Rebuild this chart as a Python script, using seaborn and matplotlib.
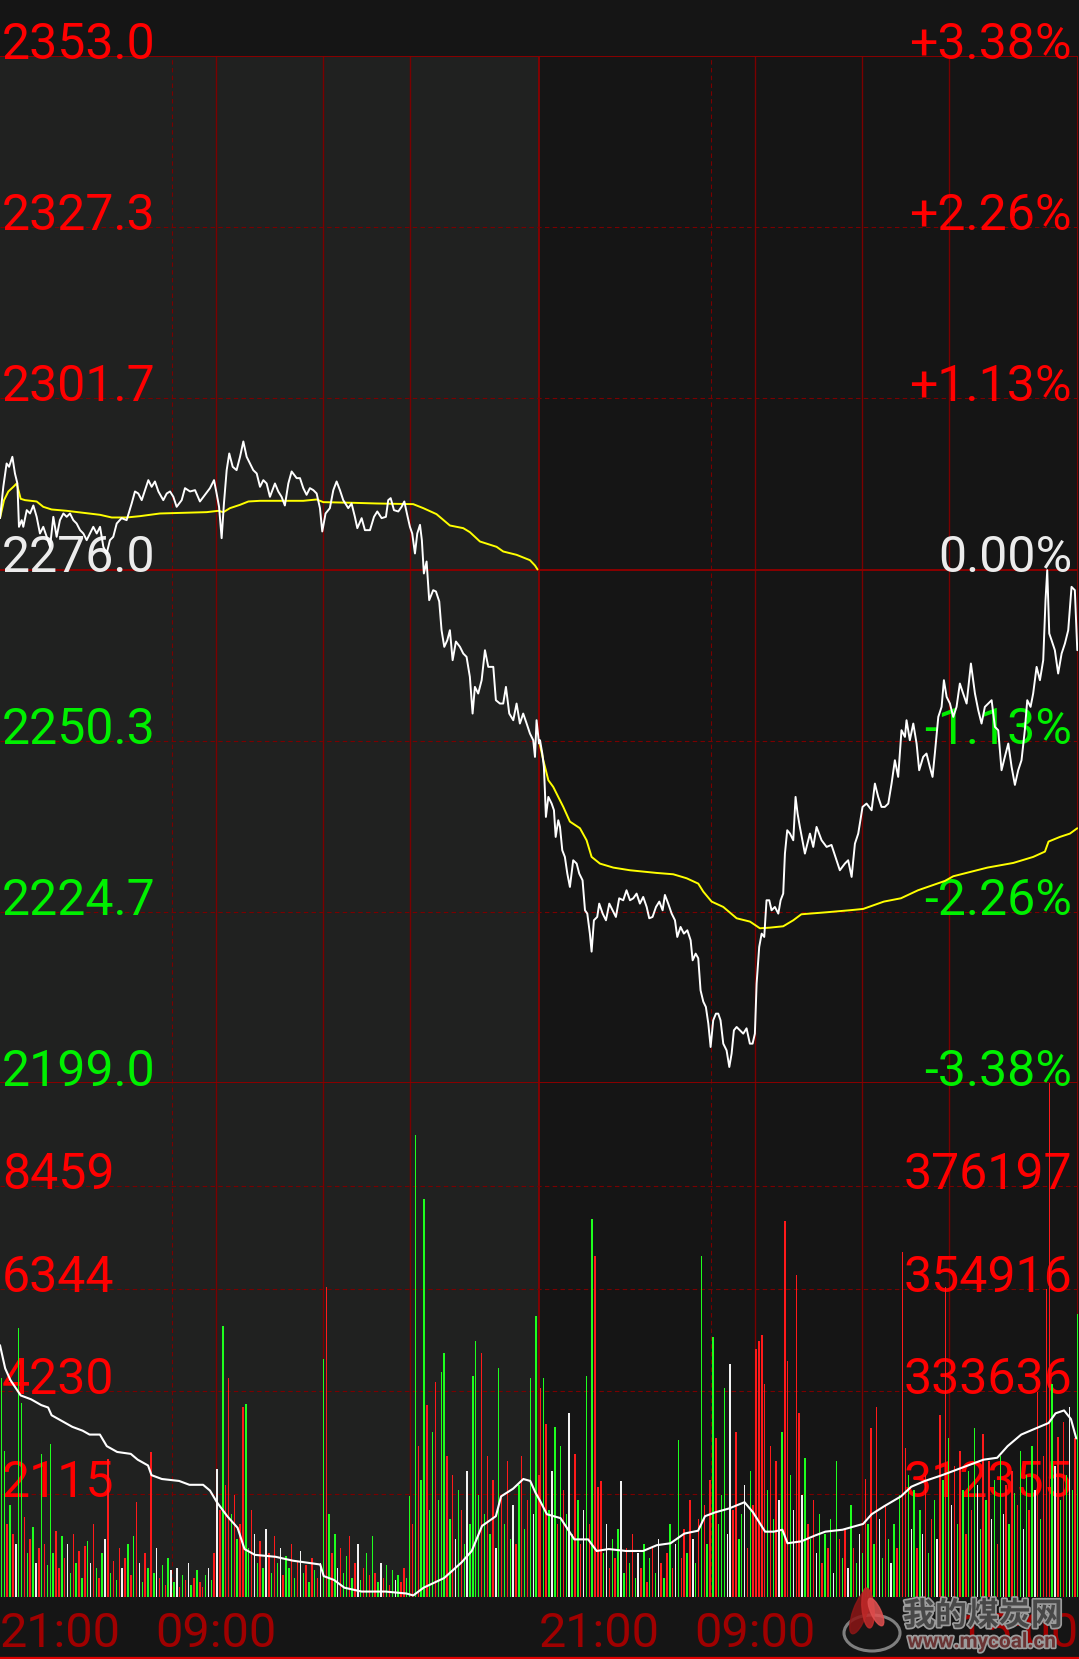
import numpy as np
import pandas as pd
import matplotlib
matplotlib.use("Agg")
import matplotlib.pyplot as plt
import matplotlib.transforms as mtransforms
import matplotlib.patheffects as pe
from matplotlib.patches import Ellipse
from matplotlib.lines import Line2D
import seaborn as sns

# ---------------- data ----------------
# axis labels
price_levels = [2353.0, 2327.3, 2301.7, 2276.0, 2250.3, 2224.7, 2199.0]
pct_labels = ["+3.38%", "+2.26%", "+1.13%", "0.00%", "-1.13%", "-2.26%", "-3.38%"]
vol_levels = [8459, 6344, 4230, 2115]
oi_labels = ["376197", "354916", "333636", "312355"]
vol_max = 10574
oi_min, oi_max = 291074, 397478

# session minutes (two trading days of 375 min each)
time_labels = ["21:00", "09:00", "21:00", "09:00", "15:00"]
time_minutes = [0, 150, 375, 525, 750]
dashed_minutes = [120, 495]
solid_minutes = [150, 225, 285, 525, 600, 660]
day_break = 375

# last price, day 1 (minute, price)
day1_t = [0, 2.3, 4.6, 6.3, 8.6, 10.4, 12.1, 13.2, 15.1, 16.2, 18.6, 20.9, 23.2, 25.5, 27.8,
          30.1, 32.5, 34.8, 37.1, 39.4, 41.7, 44.1, 46.4, 48.7, 51.0, 53.3, 55.7, 58.0, 60.3,
          62.6, 64.9, 67.3, 69.6, 71.9, 74.2, 76.5, 78.8, 81.2, 84.6, 88.1, 91.6, 93.9, 96.2,
          98.6, 100.9, 103.2, 105.5, 107.8, 110.2, 113.6, 116.0, 118.3, 120.6, 122.9, 126.4,
          128.7, 132.2, 135.7, 139.1, 142.6, 146.1, 148.9, 150.7, 152.4, 154.2, 155.8, 157.7,
          159.5, 161.9, 164.6, 167.0, 169.3, 171.6, 173.9, 176.2, 178.6, 180.9, 183.2, 185.5,
          187.8, 191.3, 193.6, 195.9, 198.2, 200.6, 202.9, 206.4, 208.7, 211.0, 213.3, 215.6,
          218.0, 220.3, 222.6, 224.2, 226.5, 229.5, 231.9, 234.2, 236.5, 238.8, 242.3, 244.6,
          246.9, 248.6, 251.6, 253.9, 257.4, 260.2, 262.5, 265.5, 268.5, 270.1, 271.8, 274.1,
          277.1, 279.4, 281.3, 283.3, 285.2, 286.8, 288.7, 290.3, 292.2, 293.5, 294.9, 296.8,
          298.6, 301.4, 303.3, 305.6, 307.2, 309.1, 311.2, 313.0, 314.9, 317.2, 320.0, 322.3,
          324.6, 326.9, 328.8, 330.4, 332.7, 335.1, 337.4, 339.7, 343.2, 345.0, 347.8, 350.1,
          352.0, 354.3, 357.1, 359.4, 361.7, 364.0, 366.4, 368.7, 371.0, 372.2, 373.3, 375.0]
day1_p = [2283.7, 2288.4, 2291.9, 2291.4, 2292.9, 2290.4, 2288.9, 2282.4, 2283.4, 2282.4,
          2284.9, 2284.4, 2285.6, 2283.9, 2281.4, 2282.4, 2280.9, 2279.4, 2283.9, 2280.9,
          2283.4, 2284.4, 2283.9, 2284.4, 2283.4, 2282.9, 2281.9, 2281.4, 2280.4, 2281.4,
          2282.4, 2281.4, 2282.4, 2279.4, 2278.4, 2280.4, 2280.9, 2282.9, 2283.7, 2283.4,
          2285.9, 2287.7, 2287.4, 2286.4, 2287.9, 2289.4, 2288.4, 2289.2, 2287.7, 2286.4,
          2287.4, 2287.7, 2286.9, 2285.4, 2286.4, 2288.2, 2287.7, 2287.9, 2286.2, 2287.2,
          2288.2, 2289.4, 2287.4, 2285.4, 2280.7, 2285.9, 2290.9, 2293.4, 2291.4, 2290.9,
          2292.9, 2295.2, 2292.9, 2291.9, 2290.9, 2290.4, 2288.4, 2289.4, 2288.9, 2286.9,
          2288.9, 2287.7, 2286.9, 2285.6, 2288.9, 2290.7, 2289.7, 2289.7, 2288.2, 2287.2,
          2288.2, 2287.9, 2287.4, 2285.2, 2281.7, 2284.4, 2285.2, 2287.9, 2289.2, 2287.9,
          2286.4, 2285.2, 2285.9, 2283.9, 2282.2, 2283.7, 2281.9, 2281.9, 2283.9, 2284.7,
          2283.7, 2283.9, 2286.4, 2286.7, 2284.9, 2284.7, 2285.4, 2286.2, 2284.2, 2282.4,
          2281.4, 2278.4, 2281.4, 2282.7, 2280.4, 2275.4, 2277.2, 2271.4, 2272.9, 2272.7,
          2271.2, 2266.9, 2264.4, 2265.4, 2266.9, 2262.4, 2265.2, 2264.4, 2263.4, 2262.9,
          2259.9, 2254.4, 2258.4, 2257.4, 2259.4, 2263.9, 2261.4, 2261.4, 2256.4, 2255.9,
          2255.9, 2258.4, 2254.4, 2253.4, 2255.9, 2252.9, 2254.4, 2252.9, 2251.4, 2250.4,
          2247.9, 2253.4, 2249.9]

# last price, day 2
day2_t = [375.7, 377.3, 378.4, 379.1, 379.8, 381.5, 383.8, 385.4, 386.6, 388.4, 389.6, 391.2,
          393.0, 394.7, 396.5, 398.8, 401.2, 403.0, 405.3, 407.0, 408.6, 410.4, 411.6, 413.2,
          415.5, 416.9, 419.3, 421.6, 423.9, 426.2, 428.5, 430.8, 433.6, 435.9, 438.3, 440.6,
          442.9, 445.2, 447.5, 449.9, 451.7, 454.0, 456.4, 458.7, 461.0, 462.6, 464.9, 467.3,
          469.6, 471.2, 473.5, 475.8, 478.2, 480.5, 481.9, 484.0, 485.8, 487.4, 489.3, 491.1,
          492.8, 494.4, 496.2, 498.1, 499.7, 501.3, 503.2, 505.5, 507.4, 509.0, 510.6, 512.5,
          514.8, 517.1, 519.4, 521.7, 523.6, 525.2, 526.4, 528.2, 529.9, 531.7, 533.3, 535.2,
          536.8, 539.1, 541.5, 543.1, 544.9, 546.1, 547.7, 549.6, 551.9, 553.5, 554.9, 556.5,
          560.0, 563.5, 565.8, 568.1, 571.6, 575.1, 578.5, 582.0, 584.3, 587.8, 590.1, 592.5,
          594.8, 597.1, 600.1, 602.9, 606.4, 608.7, 611.0, 613.3, 615.6, 618.0, 620.3, 622.6,
          624.9, 627.2, 629.6, 630.7, 633.0, 635.4, 637.7, 639.5, 642.3, 644.6, 646.9, 648.8,
          650.4, 652.8, 655.1, 656.7, 658.6, 660.9, 663.2, 665.5, 667.8, 670.1, 672.5, 675.5,
          678.3, 680.6, 682.9, 685.2, 687.5, 689.9, 692.2, 694.5, 696.8, 699.1, 701.5, 703.8,
          706.1, 708.4, 710.7, 713.0, 714.7, 717.0, 718.8, 721.2, 723.5, 725.8, 727.4, 728.6,
          730.0, 731.6, 733.9, 736.2, 738.6, 740.9, 743.2, 745.5, 747.8, 749.5]
day2_p = [2250.4, 2248.4, 2246.4, 2242.9, 2238.9, 2241.9, 2240.9, 2239.9, 2235.9, 2238.4,
          2237.4, 2233.9, 2232.9, 2230.4, 2228.4, 2232.4, 2231.9, 2230.4, 2229.4, 2224.9,
          2224.4, 2221.4, 2218.7, 2223.4, 2223.9, 2225.9, 2224.4, 2223.4, 2225.9, 2224.9,
          2223.9, 2226.7, 2226.4, 2227.9, 2226.4, 2226.7, 2227.4, 2225.9, 2226.9, 2225.4,
          2223.7, 2223.9, 2225.4, 2226.2, 2224.9, 2227.2, 2225.9, 2224.4, 2223.4, 2220.9,
          2222.4, 2221.4, 2221.9, 2220.4, 2217.4, 2218.4, 2217.7, 2212.9, 2211.2, 2210.4,
          2207.9, 2204.4, 2208.4, 2209.4, 2209.4, 2208.4, 2204.9, 2203.9, 2201.4, 2203.4,
          2206.9, 2207.4, 2206.9, 2206.4, 2207.2, 2204.9, 2204.9, 2206.4, 2213.9, 2219.4,
          2221.4, 2220.9, 2226.4, 2226.4, 2224.9, 2225.4, 2224.4, 2226.4, 2227.4, 2233.4,
          2236.9, 2236.4, 2235.4, 2241.9, 2239.4, 2237.4, 2233.4, 2236.4, 2234.4, 2237.4,
          2235.4, 2234.4, 2234.7, 2232.4, 2230.9, 2231.9, 2232.4, 2229.9, 2234.9, 2236.4,
          2240.4, 2240.9, 2239.9, 2243.9, 2241.9, 2240.4, 2240.4, 2240.9, 2243.9, 2247.4,
          2244.9, 2251.9, 2250.9, 2253.4, 2250.4, 2252.9, 2249.9, 2245.9, 2247.9, 2248.4,
          2246.4, 2244.9, 2248.4, 2253.9, 2255.4, 2259.4, 2256.9, 2255.9, 2253.9, 2255.4,
          2258.9, 2257.4, 2255.9, 2261.9, 2257.4, 2254.9, 2252.9, 2255.4, 2255.9, 2256.4,
          2252.4, 2251.9, 2245.9, 2247.9, 2249.9, 2246.4, 2243.7, 2245.9, 2247.4, 2251.9,
          2256.4, 2255.4, 2257.4, 2261.4, 2259.4, 2262.4, 2271.4, 2275.9, 2266.4, 2265.4,
          2263.9, 2260.4, 2263.4, 2264.9, 2266.9, 2273.4, 2272.9, 2263.9]

# average price (yellow), one line per day
avg1_t = [0, 2.8, 5.8, 9.3, 11.6, 14.4, 17.4, 25.5, 30.1, 35.9, 46.4, 58.0, 69.6, 77.7, 88.1,
          97.4, 111.3, 127.5, 143.8, 151.9, 155.4, 160.0, 167.0, 172.8, 180.9, 211.0, 220.3,
          224.9, 245.8, 262.0, 287.5, 294.5, 303.7, 313.0, 322.3, 326.9, 333.9, 345.5, 350.1,
          359.4, 368.7, 372.2, 374.0]
avg1_p = [2283.7, 2286.4, 2287.7, 2288.4, 2288.9, 2286.6, 2286.4, 2286.2, 2285.4, 2285.0,
          2284.8, 2284.5, 2284.2, 2283.8, 2283.8, 2284.0, 2284.4, 2284.5, 2284.6, 2284.8,
          2284.6, 2285.2, 2285.7, 2286.2, 2286.3, 2286.3, 2286.5, 2286.1, 2286.0, 2285.9,
          2285.8, 2285.2, 2284.3, 2282.6, 2282.2, 2281.6, 2280.2, 2279.4, 2278.7, 2278.2,
          2277.4, 2276.6, 2276.0]
avg2_t = [375.7, 378.0, 381.5, 384.9, 388.4, 391.9, 396.5, 403.5, 408.1, 411.6, 417.4, 426.7,
          438.3, 456.8, 468.4, 477.7, 485.8, 489.3, 495.1, 503.2, 512.5, 521.8, 528.7, 535.7,
          544.9, 551.9, 557.5, 575.0, 591.0, 600.5, 614.9, 626.8, 638.7, 657.4, 663.2, 676.0,
          687.0, 705.0, 718.8, 727.0, 729.5, 737.4, 744.4, 749.5]
avg2_p = [2249.7, 2247.4, 2244.4, 2243.4, 2241.9, 2240.4, 2238.2, 2237.2, 2235.4, 2232.9,
          2231.9, 2231.3, 2230.9, 2230.5, 2230.3, 2229.7, 2228.9, 2227.7, 2226.2, 2225.4,
          2223.7, 2223.2, 2222.2, 2222.3, 2222.5, 2223.4, 2224.3, 2224.6, 2224.9, 2225.1,
          2226.2, 2226.7, 2227.9, 2229.3, 2230.0, 2230.7, 2231.3, 2232.0, 2232.9, 2233.7,
          2235.2, 2235.9, 2236.4, 2237.2]

# open interest (white line in the volume pane)
oi_t = [0, 3.6, 7.2, 14.4, 21.6, 28.7, 33.5, 35.9, 43.1, 50.3, 57.5, 62.3, 69.5, 74.3, 81.5,
        91.0, 95.8, 103.0, 105.4, 112.6, 124.6, 131.8, 141.3, 146.1, 150.9, 158.1, 165.3,
        170.1, 177.3, 191.7, 203.6, 222.8, 225.2, 232.4, 239.6, 251.6, 268.3, 282.7, 287.5,
        294.7, 309.0, 321.0, 328.2, 335.4, 345.0, 348.6, 357.0, 364.1, 368.9, 372.5, 375.7,
        380.5, 390.0, 399.6, 409.2, 415.1, 423.5, 435.5, 447.4, 457.0, 466.5, 476.1, 485.7,
        490.5, 497.6, 507.2, 518.0, 523.9, 532.3, 538.3, 544.3, 547.9, 557.5, 567.0, 574.2,
        586.1, 600.5, 606.4, 614.8, 626.8, 634.0, 643.5, 655.5, 669.8, 684.2, 693.8, 701.0,
        710.5, 720.0, 729.6, 734.4, 740.3, 745.1, 748.8]
oi_v = [343200, 338400, 336000, 332800, 332000, 330800, 330300, 328700, 327500, 326300,
        325500, 324700, 324700, 322300, 321100, 320700, 319500, 318300, 316300, 315500,
        315100, 314300, 314300, 313100, 310700, 307800, 305400, 301000, 299800, 299400,
        298600, 297800, 295400, 294600, 293000, 292200, 292200, 291800, 291400, 293000,
        295000, 298200, 300600, 305800, 307800, 311900, 313500, 315500, 315100, 312700,
        311000, 308200, 307400, 303000, 303000, 300600, 301000, 300600, 300600, 301800,
        302200, 304200, 304800, 307800, 308600, 309400, 310700, 308600, 304600, 304600,
        305000, 302200, 302600, 303800, 304600, 305000, 306200, 308200, 309800, 311900,
        313900, 315100, 316300, 317900, 319500, 319900, 322300, 324700, 325900, 327100,
        329100, 329700, 327900, 323900]

# volume per 2-minute slot and its colour (r up, g down, w flat)
vol_day1 = [4500, 3000, 1500, 1900, 1300, 1100, 5540, 3990, 1650, 900,
            1200, 1450, 700, 1000, 2940, 1100, 650, 3150, 900, 1350,
            600, 1250, 800, 1100, 500, 1300, 700, 950, 400, 1050,
            1150, 700, 1500, 600, 400, 900, 1200, 2830, 500, 750,
            350, 1000, 600, 800, 1100, 450, 1250, 1955, 700, 300,
            900, 600, 2980, 500, 1000, 400, 650, 250, 800, 550,
            300, 600, 200, 450, 350, 700, 250, 400, 550, 300,
            200, 450, 600, 350, 900, 2630, 1800, 5580, 2300, 4510,
            1700, 2100, 1200, 1500, 3910, 3970, 1000, 1800, 1300, 700,
            1150, 600, 1400, 900, 500, 1250, 700, 1000, 450, 850,
            600, 1100, 400, 750, 950, 500, 650, 300, 800, 550,
            400, 700, 4900, 6380, 1700, 900, 1300, 600, 1000, 500,
            850, 1250, 400, 700, 1100, 350, 600, 900, 450, 1250,
            500, 300, 700, 400, 650, 250, 550, 350, 450, 300,
            600, 400, 2070, 1500, 9500, 3110, 2400, 8180, 3950, 1800,
            3385, 4425, 2000, 4630, 5020, 2900, 1600, 2500, 1200, 2200,
            1800, 1100, 2600, 1500, 4550, 5270, 2100, 5020, 1700, 2900,
            1300, 2400, 1000, 4705, 2100, 1500, 2800, 1200, 1900, 1100,
            2300, 2906, 1400, 2000, 4507, 1700, 5783, 2500]
col_day1 = ("ggrgrwggrg" "rgwrgrgggr" "rgrwgrgrgr" "gwrgrgwrgr" "grwrgrgrwg"
            "rgrgwrgrgw" "gwrgrwgrgr" "rgwgrwrgrr" "grgrrggrwg" "rgwrgrgwrg"
            "grgrwgrgrg" "rwgrgrgwrg" "grgrwgrgrg" "rgwrgrgwgr" "rggrgrggrg"
            "grgggrgrwg" "rgwggggrgr" "grwgrgrgwr" "grgrgwgr")
vol_day2 = [4300, 4507, 3550, 1800, 2600, 3507, 1500, 3107, 2200, 1700,
            3787, 1300, 2947, 2000, 1100, 1800, 4545, 1500, 7781, 7022,
            2268, 2388, 900, 1500, 600, 1200, 800, 1400, 2388, 500,
            1000, 700, 1300, 400, 900, 600, 1100, 300, 800, 1000,
            500, 1200, 700, 400, 900, 1500, 600, 1100, 3227, 800,
            1400, 900, 2000, 1200, 700, 1600, 7022, 1900, 1100, 2400,
            5345, 3267, 1500, 2100, 4306, 1300, 4785, 1800, 3387, 1200,
            1700, 2300, 1000, 2600, 1900, 5104, 5263, 5384, 4386, 2200,
            3100, 1600, 2800, 2000, 3400, 7740, 4865, 2500, 1800, 6623,
            3787, 2100, 2868, 1500, 1200, 2000, 900, 1700, 700, 1300,
            1000, 1600, 500, 2788, 1200, 800, 1400, 600, 1900, 1000,
            700, 1300, 900, 2428, 1500, 3467, 1100, 3907, 1600, 800,
            1900, 1200, 700, 1500, 1000, 2100, 7100, 3067, 2508, 1400,
            2200, 1000, 1800, 1300, 2500, 900, 1600, 2000, 1200, 3747,
            2400, 6383, 3267, 1900, 2700, 1500, 3000, 2200, 1300, 2600,
            1800, 3467, 2300, 1400, 3347, 2000, 2800, 1600, 2400, 1100,
            2900, 1700, 2300, 1500, 2600, 2148, 1900, 3000, 1400, 2500,
            1800, 3100, 2200, 4226, 1600, 2900, 6343, 10574, 4386, 2700,
            3300, 2000, 3600, 2500, 3900, 2200, 3267, 5824]
col_day2 = ("rgrgwgrgrg" "wgrgrwgrgr" "rrgwrgrgwg" "rgrgwrgrgr" "gwrgrgrwgr"
            "rgrwgrgrgr" "grgggwwrrg" "gwrgrrrrrg" "rgrwgrrgwr" "rwgrgrwgrg"
            "rgwgrgrwgr" "gwgrgrgrwg" "rgwgrgrrgw" "grgwrgrgwr" "grgwrgrgrg"
            "rgwgrgrwgr" "gwrgrgrgwg" "rgwrgrrrgw" "rgrgwgrg")

# ---------------- style ----------------
BG = "#151515"
BG_DAY1 = "#202120"
GRID = "#7a0000"
RED, GREEN, WHITE = "#ff0000", "#00f000", "#ececec"
BAR_COL = {"r": "#ff1a1a", "g": "#1eff1e", "w": "#f2f2f2"}

sns.set_theme(style="dark", rc={"axes.facecolor": BG, "figure.facecolor": BG,
                                "savefig.facecolor": BG, "axes.edgecolor": BG})
plt.rcParams["font.family"] = ["Roboto", "Noto Sans CJK SC", "DejaVu Sans"]

W, H = 1079, 1659
fig = plt.figure(figsize=(W / 100, H / 100), dpi=100)


def rect(top, bottom):
    # pixel rows of the screenshot -> figure rectangle
    return [0, 1 - bottom / H, 1078 / W, (bottom - top) / H]


ax_v = fig.add_axes(rect(1083, 1597))
ax_oi = ax_v.twinx()
# price pane sits above the volume pane so its bottom labels are not covered
ax_p = fig.add_axes(rect(56, 1083), zorder=3)

for ax in (ax_p, ax_v, ax_oi):
    ax.set_xlim(0, 750)
    for s in ax.spines.values():
        s.set_visible(False)
ax_p.set_ylim(price_levels[-1], price_levels[0])
ax_v.set_ylim(0, vol_max)
ax_oi.set_ylim(oi_min, oi_max)

# day-one shading and grid
for ax in (ax_p, ax_v):
    ax.axvspan(0, day_break, color=BG_DAY1, lw=0, zorder=0)
    for m in dashed_minutes:
        ax.axvline(m, color=GRID, lw=0.8, ls=(0, (4, 3)), zorder=1)
    for m in solid_minutes:
        ax.axvline(m, color=GRID, lw=1.0, zorder=1)
    ax.axvline(day_break, color="#8a0000", lw=1.3, zorder=1)
    ax.axvline(750, color="#8a0000", lw=1.3, zorder=1)

for lvl in price_levels:
    if lvl in (price_levels[0], price_levels[3], price_levels[-1]):
        ax_p.axhline(lvl, color="#8a0000", lw=1.4, zorder=1)
    else:
        ax_p.axhline(lvl, color=GRID, lw=0.8, ls=(0, (4, 3)), zorder=1)
for lvl in vol_levels:
    ax_v.axhline(lvl, color=GRID, lw=0.8, ls=(0, (4, 3)), zorder=1)

# axis texts (drawn under the data)
lab_kw = dict(fontsize=36, fontweight="normal", zorder=2, va="baseline")
tr_p = mtransforms.offset_copy(ax_p.get_yaxis_transform(), fig=fig, y=-3, units="dots")
mid = price_levels[3]
for lvl, pct in zip(price_levels, pct_labels):
    c = RED if lvl > mid else (WHITE if lvl == mid else GREEN)
    ax_p.text(2 / 1078, lvl, f"{lvl:.1f}", color=c, ha="left", transform=tr_p, **lab_kw)
    ax_p.text(1072 / 1078, lvl, pct, color=c, ha="right", transform=tr_p, **lab_kw)

tr_v = mtransforms.offset_copy(ax_v.get_yaxis_transform(), fig=fig, y=-3, units="dots")
for lvl, oi in zip(vol_levels, oi_labels):
    ax_v.text(2 / 1078, lvl, str(lvl), color=RED, ha="left", transform=tr_v, **lab_kw)
    ax_v.text(1072 / 1078, lvl, oi, color=RED, ha="right", transform=tr_v, **lab_kw)

# volume bars
x1 = np.arange(len(vol_day1)) * 2 + 1
x2 = day_break + np.arange(len(vol_day2)) * 2 + 1
ax_v.bar(x1, vol_day1, width=1.0, color=[BAR_COL[c] for c in col_day1], lw=0, zorder=3)
ax_v.bar(x2, vol_day2, width=1.0, color=[BAR_COL[c] for c in col_day2], lw=0, zorder=3)

# price, average and open-interest lines
price_df = pd.DataFrame({"t": day1_t + day2_t, "p": day1_p + day2_p})
sns.lineplot(data=price_df, x="t", y="p", ax=ax_p, color="white", lw=1.4,
             estimator=None, sort=False, zorder=4)
sns.lineplot(x=avg1_t, y=avg1_p, ax=ax_p, color="#ffff00", lw=1.4, estimator=None, sort=False, zorder=3)
sns.lineplot(x=avg2_t, y=avg2_p, ax=ax_p, color="#ffff00", lw=1.4, estimator=None, sort=False, zorder=3)
sns.lineplot(x=oi_t, y=oi_v, ax=ax_oi, color="white", lw=1.5, estimator=None, sort=False)

for ax in (ax_p, ax_v, ax_oi):
    ax.set_xticks([])
    ax.set_yticks([])
    ax.set_xlabel("")
    ax.set_ylabel("")
    ax.grid(False)
ax_oi.patch.set_visible(False)

# overlay in pixel coordinates: time labels, bottom rule, watermark
ax_w = fig.add_axes([0, 0, 1, 1], zorder=10)
ax_w.set_xlim(0, W)
ax_w.set_ylim(H, 0)
ax_w.axis("off")
ax_w.patch.set_alpha(0)

tr_t = mtransforms.blended_transform_factory(ax_v.transData, ax_w.transData)
aligns = ["left", "center", "left", "center", "right"]
for lab, m, ha in zip(time_labels, time_minutes, aligns):
    ax_w.text(m, 1634, lab, transform=tr_t, ha=ha, va="center", fontsize=35,
              color="#a00000", zorder=1)
ax_w.add_line(Line2D([0, W], [1657.5, 1657.5], color="#e00000", lw=1.6, zorder=2))

# watermark "我的煤炭网"
ax_w.add_patch(Ellipse((872, 1633), 56, 36, fill=False, ec="#9a9a9a", lw=2.2, alpha=0.8, zorder=3))
for (cx, cy, w, h, ang, c) in [(860, 1612, 14, 46, 20, "#8c1515"), (868, 1608, 12, 40, -5, "#c22a2a"),
                               (876, 1612, 10, 30, -25, "#e05050")]:
    ax_w.add_patch(Ellipse((cx, cy), w, h, angle=ang, color=c, alpha=0.85, zorder=4))
stroke = [pe.withStroke(linewidth=2.5, foreground="#9c9c9c")]
ax_w.text(983, 1616, "我的煤炭网", family=["Noto Sans CJK SC"], fontsize=23, fontweight="bold",
          color="#484848", ha="center", va="center", path_effects=stroke, zorder=5)
ax_w.text(982, 1642, "www.mycoal.cn", fontsize=15, fontweight="bold", color="#6a3434",
          ha="center", va="center", path_effects=stroke, zorder=5)

fig.savefig("out.png", dpi=100, facecolor=BG)
